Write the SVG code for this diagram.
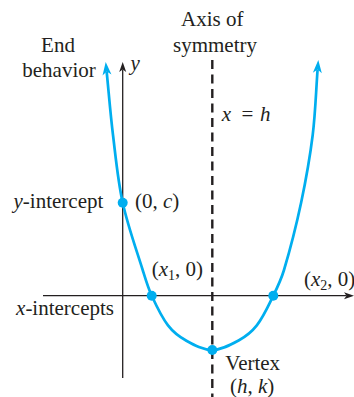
<svg xmlns="http://www.w3.org/2000/svg" width="354" height="397" viewBox="0 0 354 397">
<style>
text{font-family:"Liberation Serif","Times New Roman",serif;font-size:21px;fill:#231f20}
.i{font-style:italic}
.sub{font-size:14px}
.axis{stroke:#231f20;stroke-width:1.3;fill:none}
.curve{stroke:#00aeef;stroke-width:2.7;fill:none}
.dot{fill:#00aeef}
.sym{stroke:#231f20;stroke-width:2.4;stroke-dasharray:9 5.5;fill:none}
</style>
<defs>
<marker id="ab" markerUnits="userSpaceOnUse" markerWidth="14" markerHeight="10" refX="2.5" refY="3.5" orient="auto-start-reverse" overflow="visible">
<path d="M0,0 L10,3.5 L0,7 L2.5,3.5 z" fill="#231f20"/>
</marker>
<marker id="ac" markerUnits="userSpaceOnUse" markerWidth="16" markerHeight="12" refX="3.5" refY="4.5" orient="auto-start-reverse" overflow="visible">
<path d="M0,0 L13,4.5 L0,9 L3.5,4.5 z" fill="#00aeef"/>
</marker>
</defs>
<g id="connectors">
<line id="y-axis" class="axis" x1="122.7" y1="378" x2="122.7" y2="69.5" marker-end="url(#ab)"/>
<line id="x-axis" class="axis" x1="43" y1="295.7" x2="346.5" y2="295.7" marker-end="url(#ab)"/>
<line id="axis-of-symmetry" class="sym" x1="212.3" y1="60" x2="212.3" y2="397"/>
<path id="parabola" class="curve" marker-start="url(#ac)" marker-end="url(#ac)" d="M106.65,71.5 C108.77,92.66 110.42,113.89 113,135 C115.77,157.63 117.8,180.43 122.7,202.7 C127.73,225.55 135.73,247.66 142.7,270 C145.4,278.66 147.93,287.45 151.7,295.7 C156.39,305.97 161.14,316.44 168,325.4 C172.76,331.62 179.16,336.7 186,340.5 C194.15,345.02 202.98,350 212.3,350 C221.62,350 230.44,345.01 238.6,340.5 C245.5,336.69 251.98,331.63 256.8,325.4 C263.73,316.44 268.31,305.87 273.3,295.7 C277.39,287.37 281.34,278.89 284,270 C290.63,247.82 296.28,225.34 301.1,202.7 C305.86,180.3 309.88,157.73 312.7,135 C315.39,113.26 315.97,91.34 317.6,69.5"/>
</g>
<g id="title-axis">
<text x="212.2" y="26" text-anchor="middle">Axis of</text>
<text x="215" y="52" text-anchor="middle">symmetry</text>
</g>
<g id="end-behavior">
<text x="58" y="52" text-anchor="middle">End</text>
<text x="59" y="77" text-anchor="middle">behavior</text>
</g>
<g id="y-label"><text x="130.5" y="70" class="i">y</text></g>
<g id="sym-label"><text y="121"><tspan x="221.7" class="i">x</tspan><tspan x="241.5">=</tspan><tspan x="260" class="i">h</tspan></text></g>
<g id="y-intercept">
<circle class="dot" cx="122.7" cy="202.7" r="5"/>
<text x="103.3" y="207.5" text-anchor="end"><tspan class="i">y</tspan>-intercept</text>
<text x="135" y="207.5">(0, <tspan class="i">c</tspan>)</text>
</g>
<g id="x-intercept-1">
<circle class="dot" cx="151.7" cy="295.7" r="5"/>
<text x="151.7" y="276">(<tspan class="i">x</tspan><tspan class="sub" dy="4">1</tspan><tspan dy="-4">, 0)</tspan></text>
</g>
<g id="x-intercept-2">
<circle class="dot" cx="273.3" cy="295.7" r="5"/>
<text x="304" y="286">(<tspan class="i">x</tspan><tspan class="sub" dy="4">2</tspan><tspan dy="-4">, 0)</tspan></text>
</g>
<g id="x-intercepts-label"><text x="114" y="315" text-anchor="end"><tspan class="i">x</tspan>-intercepts</text></g>
<g id="vertex">
<circle class="dot" cx="212.3" cy="350" r="5"/>
<text x="225.3" y="370">Vertex</text>
<text x="230" y="393">(<tspan class="i">h</tspan>, <tspan class="i">k</tspan>)</text>
</g>
</svg>
